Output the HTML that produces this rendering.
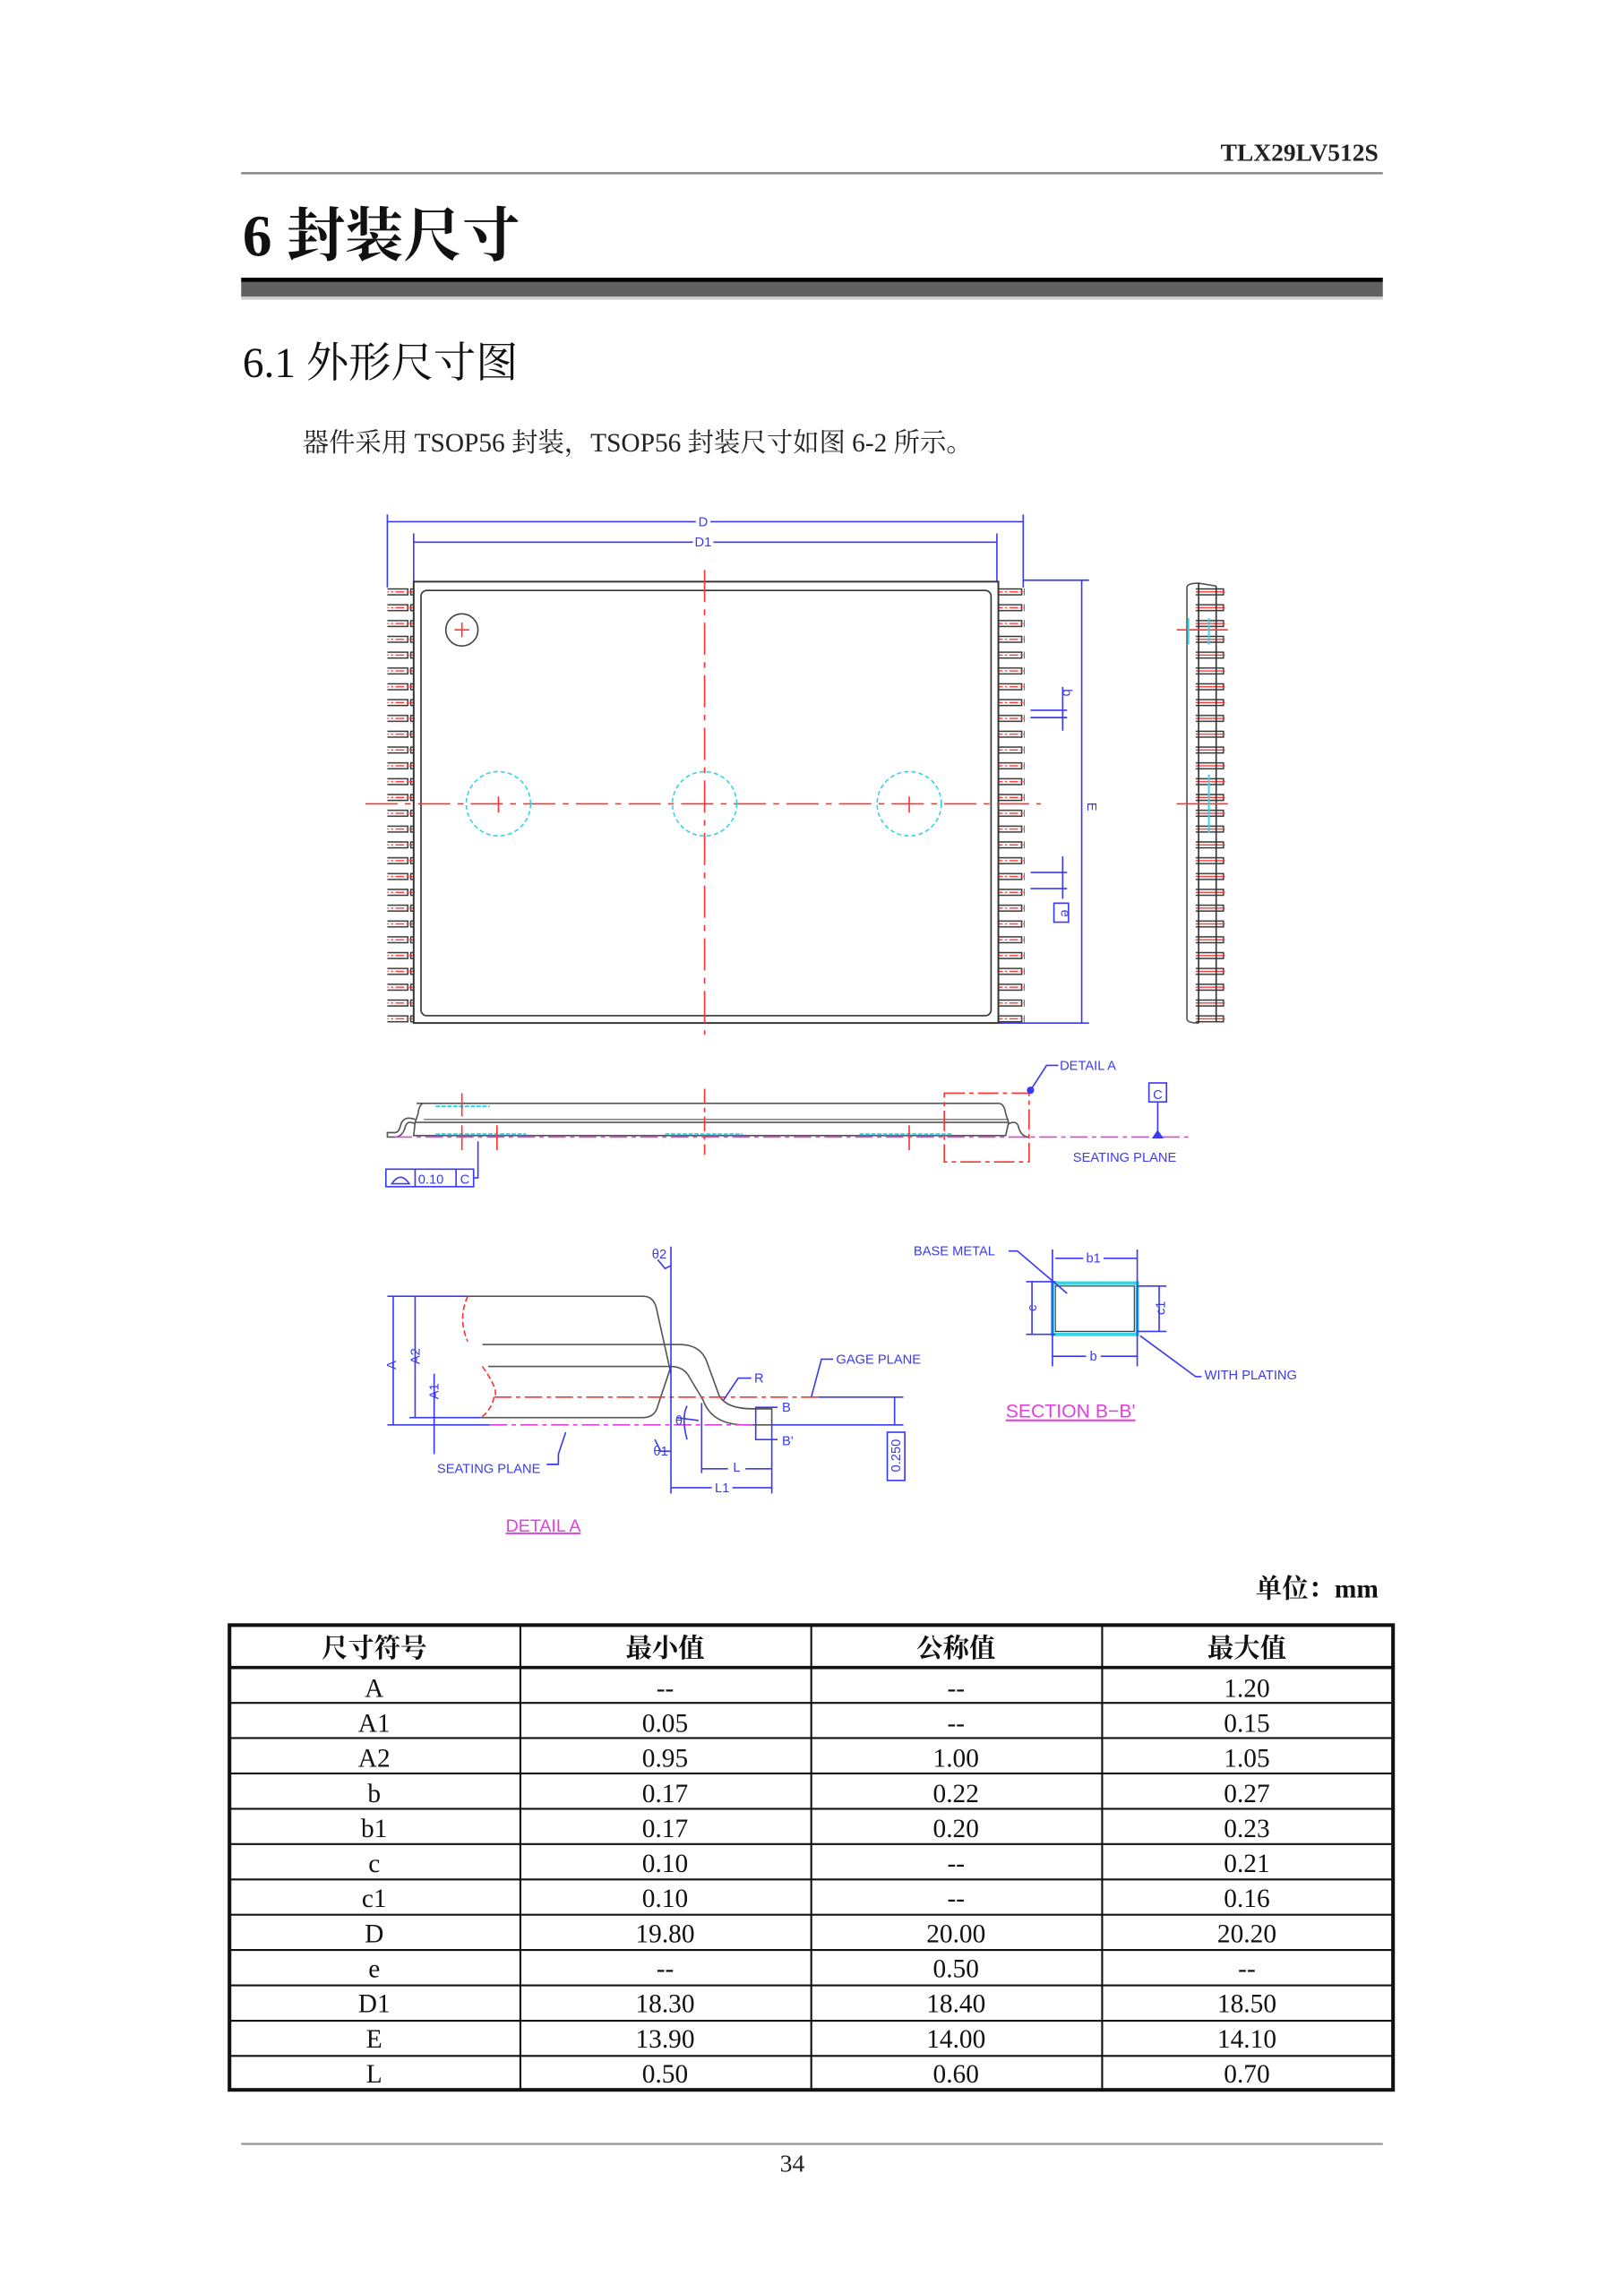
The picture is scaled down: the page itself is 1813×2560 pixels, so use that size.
<!DOCTYPE html>
<html><head><meta charset="utf-8"><style>
html,body{margin:0;padding:0;background:#fff}
svg{display:block}
.cn{font-family:"Liberation Serif","Noto Serif CJK SC","Noto Sans CJK SC",serif}
.sn{font-family:"Liberation Sans","Noto Sans CJK SC",sans-serif}
.b{fill:#3a3af0;font-family:"Liberation Sans",sans-serif;font-size:9px}
</style></head><body>
<svg width="1813" height="2560" viewBox="0 0 1111 1569" preserveAspectRatio="none" xmlns="http://www.w3.org/2000/svg">
<defs>
<pattern id="pinL" x="0" y="400" width="20" height="10.82" patternUnits="userSpaceOnUse">
<rect x="1" y="3" width="18" height="4" fill="#fff" stroke="#333" stroke-width="0.9"/>
<line x1="0" y1="5" x2="20" y2="5" stroke="#f33" stroke-width="0.8" stroke-dasharray="6,1.5,1.5,1.5"/>
</pattern>
<pattern id="pinS" x="0" y="400" width="30" height="10.82" patternUnits="userSpaceOnUse">
<rect x="1" y="3" width="26" height="4" fill="none" stroke="#333" stroke-width="0.9"/>
<line x1="0" y1="5" x2="30" y2="5" stroke="#f33" stroke-width="0.8"/>
</pattern>
</defs>
<rect width="1111" height="1569" fill="#fff"/>
<!-- header -->
<text x="943" y="110" text-anchor="end" class="cn" font-size="17" font-weight="bold" fill="#222" textLength="108" lengthAdjust="spacingAndGlyphs">TLX29LV512S</text>
<line x1="165" y1="118.5" x2="946" y2="118.5" stroke="#888" stroke-width="1.5"/>
<text x="166" y="175" class="cn" font-size="40" fill="#111" font-weight="bold">6 封装尺寸</text>
<rect x="165" y="190" width="781" height="3" fill="#000"/>
<rect x="165" y="193" width="781" height="10" fill="#606060"/>
<rect x="165" y="203" width="781" height="2" fill="#ccc"/>
<text x="166" y="258" class="cn" font-size="29" fill="#111">6.1 外形尺寸图</text>
<text x="207" y="309" class="cn" font-size="18" fill="#222">器件采用 TSOP56 封装，TSOP56 封装尺寸如图 6-2 所示。</text>

<!-- top view -->
<g stroke="#3a3af0" stroke-width="1" fill="none">
<line x1="265" y1="352" x2="265" y2="402"/><line x1="700" y1="352" x2="700" y2="402"/>
<line x1="265" y1="357" x2="700" y2="357"/>
<line x1="283" y1="365" x2="283" y2="398"/><line x1="682" y1="365" x2="682" y2="398"/>
<line x1="283" y1="371" x2="682" y2="371"/>
<line x1="700" y1="397" x2="745" y2="397"/><line x1="683" y1="700" x2="745" y2="700"/>
<line x1="740" y1="397" x2="740" y2="700"/>
<line x1="705" y1="486" x2="730" y2="486"/><line x1="705" y1="491" x2="730" y2="491"/>
<line x1="727" y1="470" x2="727" y2="500"/>
<line x1="705" y1="597" x2="730" y2="597"/><line x1="705" y1="608" x2="730" y2="608"/>
<line x1="727" y1="586" x2="727" y2="615"/>
<rect x="721" y="618" width="10" height="13"/>
</g>
<rect x="476" y="352" width="10" height="9" fill="#fff"/><text x="481" y="360" class="b" text-anchor="middle">D</text>
<rect x="474" y="366" width="14" height="9" fill="#fff"/><text x="481" y="374" class="b" text-anchor="middle">D1</text>
<text x="744" y="552" class="b" transform="rotate(90 744 552)" text-anchor="middle">E</text>
<text x="727" y="474" class="b" transform="rotate(90 727 474)" text-anchor="middle" font-size="8">b</text>
<text x="726" y="625" class="b" transform="rotate(90 726 625)" text-anchor="middle" font-size="8">e</text>
<rect x="265" y="398" width="20" height="303" fill="url(#pinL)"/>
<rect x="681" y="398" width="20" height="303" fill="url(#pinL)"/>
<rect x="283" y="398" width="400" height="302" fill="#fff" stroke="#333" stroke-width="1.2"/>
<rect x="288" y="404" width="390" height="291" rx="4" fill="none" stroke="#333" stroke-width="1"/>
<circle cx="316" cy="431" r="11" fill="none" stroke="#444" stroke-width="1"/>
<g stroke="#f33" stroke-width="1"><line x1="311" y1="431" x2="321" y2="431"/><line x1="316" y1="426" x2="316" y2="436"/>
<line x1="250" y1="550" x2="712" y2="550" stroke-dasharray="22,5,4,5"/>
<line x1="482" y1="390" x2="482" y2="708" stroke-dasharray="22,5,4,5"/>
<line x1="341" y1="545" x2="341" y2="556"/><line x1="622" y1="545" x2="622" y2="556"/>
</g>
<g fill="none" stroke="#33d6e6" stroke-width="1" stroke-dasharray="3,2">
<circle cx="341" cy="550" r="22"/><circle cx="482" cy="550" r="22"/><circle cx="622" cy="550" r="22"/>
</g>

<!-- end view -->
<path d="M812 402 L812 697 Q812 700 820 700 M812 402 Q812 399 820 399 L832 401" fill="none" stroke="#555" stroke-width="1"/>
<rect x="818" y="398" width="20" height="303" fill="url(#pinS)"/>
<line x1="820" y1="399" x2="820" y2="700" stroke="#333" stroke-width="1"/>
<line x1="832" y1="401" x2="832" y2="699" stroke="#333" stroke-width="1"/>
<g stroke="#f33" stroke-width="1"><line x1="805" y1="550" x2="840" y2="550"/><line x1="805" y1="431" x2="840" y2="431"/></g>
<g stroke="#33d6e6" stroke-width="1.2"><line x1="813" y1="423" x2="813" y2="441"/><line x1="827" y1="423" x2="827" y2="441"/><line x1="827" y1="530" x2="827" y2="570"/></g>

<!-- side view -->
<path d="M285 755 L683 755 Q687 755 688 762 L690 768 L284 768 L286 762 Q287 755 290 755" fill="none" stroke="#555" stroke-width="1"/>
<path d="M284 768 L283 777 L688 777 L690 768" fill="none" stroke="#555" stroke-width="1"/>
<path d="M284 769 Q278 766 277 772 Q275 778 270 778 L265 778 L265 775 L270 775 Q273 775 274 770 Q276 763 284 766" fill="none" stroke="#555" stroke-width="1"/>
<path d="M690 769 Q696 766 697 772 Q699 778 704 778 L700 778" fill="none" stroke="#555" stroke-width="1"/>
<line x1="290" y1="766" x2="690" y2="766" stroke="#555" stroke-width="0.7"/>
<line x1="270" y1="778" x2="815" y2="778" stroke="#e040e0" stroke-width="1" stroke-dasharray="12,3,3,3"/>
<g stroke="#33d6e6" stroke-width="1.3" stroke-dasharray="3,1"><line x1="298" y1="757" x2="335" y2="757"/><line x1="298" y1="776" x2="360" y2="776"/><line x1="455" y1="776" x2="508" y2="776"/><line x1="588" y1="776" x2="652" y2="776"/></g>
<g stroke="#f33" stroke-width="1"><line x1="316" y1="748" x2="316" y2="764"/><line x1="316" y1="770" x2="316" y2="787"/><line x1="340" y1="770" x2="340" y2="787"/><line x1="482" y1="745" x2="482" y2="790" stroke-dasharray="10,3,3,3"/><line x1="622" y1="770" x2="622" y2="787"/>
<rect x="646" y="748" width="58" height="47" fill="none" stroke-dasharray="14,3,3,3"/></g>
<g stroke="#3a3af0" stroke-width="1" fill="none">
<path d="M705 746 L716 729 L724 729"/><path d="M792 754 L792 776"/><rect x="786" y="741" width="12" height="13"/>
<rect x="264" y="800" width="60" height="12"/><line x1="284" y1="800" x2="284" y2="812"/><line x1="312" y1="800" x2="312" y2="812"/>
<path d="M324 806 L327 806 L327 781"/>
<path d="M268 810 Q274 801 280 810 Z"/>
</g>
<circle cx="705" cy="746" r="2.5" fill="#3a3af0"/>
<path d="M788 779 L792 773 L796 779 Z" fill="#3a3af0"/>
<text x="725" y="732" class="b">DETAIL  A</text>
<text x="792" y="752" class="b" text-anchor="middle" font-size="10">C</text>
<text x="734" y="795" class="b">SEATING  PLANE</text>
<text x="286" y="810" class="b">0.10</text><text x="318" y="810" class="b" text-anchor="middle">C</text>

<!-- detail A -->
<g stroke="#555" stroke-width="1" fill="none">
<path d="M320 887 L440 887 Q447 887 449 895 L459 940"/>
<path d="M330 920 L465 920 Q480 920 484 933 L492 955 Q497 964 515 964 L528 964 L528 975 L510 975 Q487 975 481 958 L472 943 Q468 935 459 935 L334 935"/>
<path d="M329 970 L440 970 Q448 970 450 962 L459 935"/>
</g>
<path d="M320 887 Q313 902 320 918 M330 935 Q342 952 338 956 M338 956 Q336 965 329 970" fill="none" stroke="#f33" stroke-width="1" stroke-dasharray="4,2"/>
<line x1="338" y1="956" x2="560" y2="956" stroke="#f33" stroke-width="1" stroke-dasharray="12,3,3,3"/>
<line x1="560" y1="956" x2="618" y2="956" stroke="#3a3af0" stroke-width="1"/>
<line x1="335" y1="975" x2="517" y2="975" stroke="#e040e0" stroke-width="1" stroke-dasharray="12,3,3,3"/>
<g stroke="#3a3af0" stroke-width="1" fill="none">
<line x1="265" y1="887" x2="320" y2="887"/><line x1="265" y1="975" x2="335" y2="975"/><line x1="528" y1="975" x2="618" y2="975"/>
<line x1="280" y1="970" x2="329" y2="970"/>
<line x1="269" y1="887" x2="269" y2="975"/><line x1="284" y1="887" x2="284" y2="970"/>
<line x1="297" y1="940" x2="297" y2="995"/>
<line x1="459" y1="853" x2="459" y2="1022"/>
<line x1="459" y1="1018" x2="528" y2="1018"/><line x1="528" y1="975" x2="528" y2="1022"/>
<line x1="480" y1="1005" x2="528" y2="1005"/><line x1="480" y1="960" x2="480" y2="1008"/>
<path d="M517 975 L517 963 L532 963"/><path d="M517 975 L517 985 L532 985"/>
<line x1="612" y1="956" x2="612" y2="975"/><rect x="607" y="980" width="12" height="33"/>
<path d="M450 862 L455 868 L459 866"/><path d="M448 985 L452 993 L459 993"/>
<path d="M470 962 Q466 970 470 985"/><line x1="463" y1="970" x2="478" y2="972"/>
<path d="M495 958 L505 943 L514 943"/><path d="M555 956 L562 930 L570 930"/>
<path d="M382 995 L387 980 M374 1002 L382 1002 L382 995"/>
</g>
<text x="271" y="934" class="b" transform="rotate(-90 271 934)" text-anchor="middle">A</text>
<text x="287" y="928" class="b" transform="rotate(-90 287 928)" text-anchor="middle">A2</text>
<text x="300" y="952" class="b" transform="rotate(-90 300 952)" text-anchor="middle">A1</text>
<text x="446" y="861" class="b" font-size="8">θ2</text>
<text x="447" y="996" class="b" font-size="8">θ1</text>
<text x="462" y="975" class="b" font-size="8">θ</text>
<text x="516" y="946" class="b">R</text>
<text x="572" y="933" class="b">GAGE  PLANE</text>
<text x="535" y="966" class="b" font-size="8">B</text>
<text x="535" y="989" class="b" font-size="8">B'</text>
<rect x="498" y="999" width="12" height="10" fill="#fff"/><text x="504" y="1007" class="b" text-anchor="middle">L</text>
<rect x="487" y="1013" width="14" height="10" fill="#fff"/><text x="494" y="1021" class="b" text-anchor="middle">L1</text>
<text x="616" y="996" class="b" transform="rotate(-90 616 996)" text-anchor="middle">0.250</text>
<text x="299" y="1008" class="b">SEATING  PLANE</text>
<text x="346" y="1048" fill="#e040e0" class="sn" font-size="12" text-decoration="underline">DETAIL  A</text>

<!-- section B-B' -->
<rect x="720" y="878" width="58" height="35" fill="#fff" stroke="#33d6e6" stroke-width="2.5"/>
<rect x="722" y="880" width="54" height="31" fill="none" stroke="#333" stroke-width="0.7"/>
<g stroke="#3a3af0" stroke-width="1" fill="none">
<line x1="720" y1="855" x2="720" y2="935"/><line x1="778" y1="855" x2="778" y2="935"/>
<line x1="722" y1="861" x2="778" y2="861"/><line x1="720" y1="928" x2="778" y2="928"/>
<line x1="702" y1="877" x2="722" y2="877"/><line x1="702" y1="913" x2="722" y2="913"/>
<line x1="706" y1="877" x2="706" y2="913"/>
<line x1="778" y1="880" x2="798" y2="880"/><line x1="778" y1="911" x2="798" y2="911"/>
<line x1="793" y1="880" x2="793" y2="911"/>
<path d="M690 856 L696 856 L730 885"/><path d="M780 914 L818 942 L822 942"/>
</g>
<text x="625" y="859" class="b">BASE  METAL</text>
<rect x="741" y="856" width="14" height="10" fill="#fff"/><text x="748" y="864" class="b" text-anchor="middle">b1</text>
<rect x="743" y="923" width="10" height="10" fill="#fff"/><text x="748" y="931" class="b" text-anchor="middle">b</text>
<text x="709" y="895" class="b" transform="rotate(-90 709 895)" text-anchor="middle">c</text>
<text x="797" y="895" class="b" transform="rotate(-90 797 895)" text-anchor="middle">c1</text>
<text x="824" y="944" class="b" font-size="7">WITH  PLATING</text>
<text x="688" y="970" fill="#e040e0" class="sn" font-size="13" text-decoration="underline">SECTION  B−B'</text>

<!-- table -->
<text x="943" y="1093" text-anchor="end" class="cn" font-size="18" font-weight="bold" fill="#111">单位：mm</text>
<g class="cn" font-size="18" fill="#111" text-anchor="middle">
<text x="256" y="1134" font-weight="bold">尺寸符号</text><text x="455" y="1134" font-weight="bold">最小值</text><text x="654" y="1134" font-weight="bold">公称值</text><text x="853" y="1134" font-weight="bold">最大值</text>
<text x="256" y="1161">A</text><text x="455" y="1161">--</text><text x="654" y="1161">--</text><text x="853" y="1161">1.20</text>
<text x="256" y="1185">A1</text><text x="455" y="1185">0.05</text><text x="654" y="1185">--</text><text x="853" y="1185">0.15</text>
<text x="256" y="1209">A2</text><text x="455" y="1209">0.95</text><text x="654" y="1209">1.00</text><text x="853" y="1209">1.05</text>
<text x="256" y="1233">b</text><text x="455" y="1233">0.17</text><text x="654" y="1233">0.22</text><text x="853" y="1233">0.27</text>
<text x="256" y="1257">b1</text><text x="455" y="1257">0.17</text><text x="654" y="1257">0.20</text><text x="853" y="1257">0.23</text>
<text x="256" y="1281">c</text><text x="455" y="1281">0.10</text><text x="654" y="1281">--</text><text x="853" y="1281">0.21</text>
<text x="256" y="1305">c1</text><text x="455" y="1305">0.10</text><text x="654" y="1305">--</text><text x="853" y="1305">0.16</text>
<text x="256" y="1329">D</text><text x="455" y="1329">19.80</text><text x="654" y="1329">20.00</text><text x="853" y="1329">20.20</text>
<text x="256" y="1353">e</text><text x="455" y="1353">--</text><text x="654" y="1353">0.50</text><text x="853" y="1353">--</text>
<text x="256" y="1377">D1</text><text x="455" y="1377">18.30</text><text x="654" y="1377">18.40</text><text x="853" y="1377">18.50</text>
<text x="256" y="1401">E</text><text x="455" y="1401">13.90</text><text x="654" y="1401">14.00</text><text x="853" y="1401">14.10</text>
<text x="256" y="1425">L</text><text x="455" y="1425">0.50</text><text x="654" y="1425">0.60</text><text x="853" y="1425">0.70</text>
</g>
<g stroke="#111" fill="none">
<rect x="157" y="1112" width="796" height="318" stroke-width="2.5"/>
<line x1="157" y1="1141" x2="953" y2="1141" stroke-width="2.2"/>
<g stroke-width="1.3">
<line x1="157" y1="1165.2" x2="953" y2="1165.2"/><line x1="157" y1="1189.3" x2="953" y2="1189.3"/><line x1="157" y1="1213.5" x2="953" y2="1213.5"/>
<line x1="157" y1="1237.7" x2="953" y2="1237.7"/><line x1="157" y1="1261.8" x2="953" y2="1261.8"/><line x1="157" y1="1286" x2="953" y2="1286"/>
<line x1="157" y1="1310.2" x2="953" y2="1310.2"/><line x1="157" y1="1334.3" x2="953" y2="1334.3"/><line x1="157" y1="1358.5" x2="953" y2="1358.5"/>
<line x1="157" y1="1382.7" x2="953" y2="1382.7"/><line x1="157" y1="1406.8" x2="953" y2="1406.8"/>
<line x1="356" y1="1112" x2="356" y2="1430"/><line x1="555" y1="1112" x2="555" y2="1430"/><line x1="754" y1="1112" x2="754" y2="1430"/>
</g></g>
<line x1="165" y1="1467" x2="946" y2="1467" stroke="#999" stroke-width="1.5"/>
<text x="542" y="1486" text-anchor="middle" class="cn" font-size="17" fill="#222">34</text>
</svg>
</body></html>
